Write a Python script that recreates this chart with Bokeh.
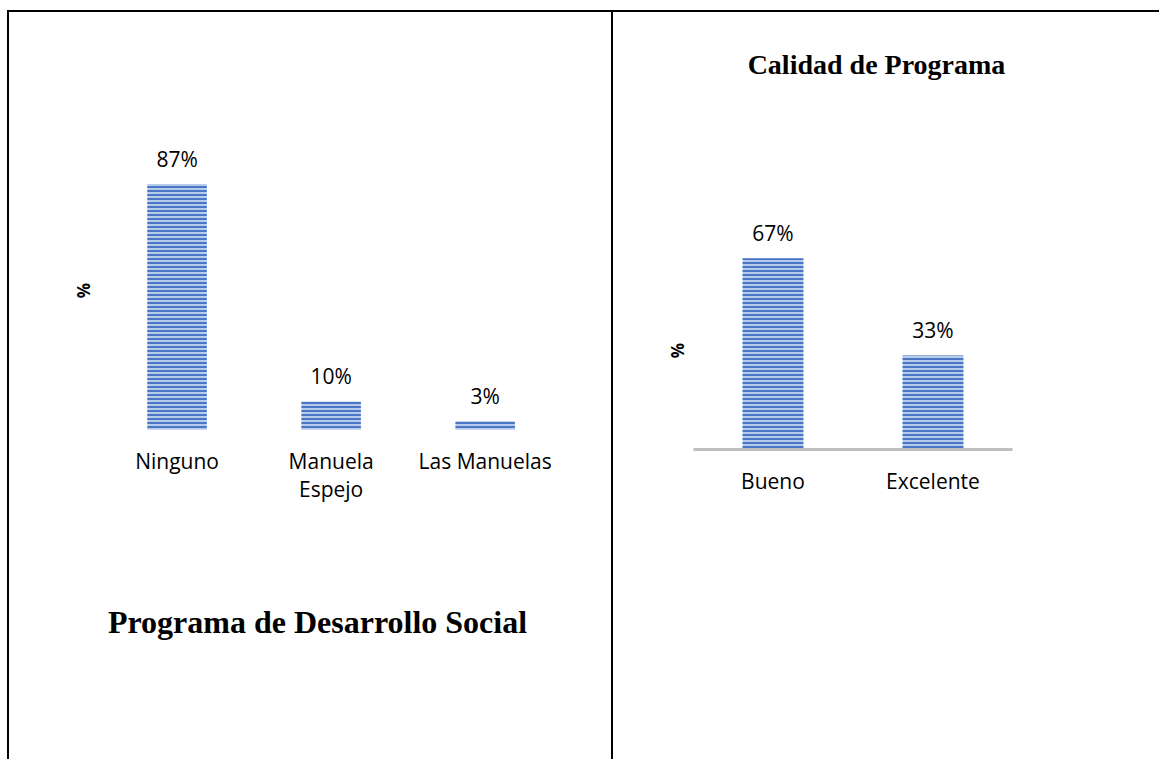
import math
from bokeh.plotting import figure
from bokeh.models import ColumnDataSource, LabelSet, Label, Range1d, FixedTicker
from bokeh.layouts import row
from bokeh.embed import file_html
from bokeh.resources import INLINE
from bokeh.core.properties import value

# ---- data ----
cats_left = ["Ninguno", "Manuela\nEspejo", "Las Manuelas"]
vals_left = [87, 10, 3]
labels_left = ["87%", "10%", "3%"]
title_left = "Programa de Desarrollo Social"

cats_right = ["Bueno", "Excelente"]
vals_right = [67, 33]
labels_right = ["67%", "33%"]
title_right = "Calidad de Programa"

BAR_DARK = "#4472C4"
BAR_LIGHT = "#B9CBEA"
SANS = "Open Sans"
SERIF = "Liberation Serif"
H = 749


def make_panel(cats, vals, labels, title, title_size, width, xr, yr, bar_width,
               axis_line, title_xy, pct_xy, styles):
    xs = list(range(len(cats)))
    p = figure(x_range=Range1d(*xr), y_range=Range1d(*yr), width=width, height=H,
               output_backend="svg", toolbar_location=None,
               min_border=0, styles=styles)
    p.outline_line_color = None
    p.grid.visible = False
    p.background_fill_color = "white"
    p.border_fill_color = "white"
    p.yaxis.visible = False

    src = ColumnDataSource(dict(x=xs, y=vals, label=labels))
    p.vbar(x="x", top="y", bottom=0, width=bar_width, source=src,
           fill_color=BAR_LIGHT, line_color=None,
           hatch_pattern="horizontal_line", hatch_color=BAR_DARK,
           hatch_scale=4, hatch_weight=1.9)

    p.add_layout(LabelSet(x="x", y="y", text="label", source=src,
                          y_offset=25, text_align="center", text_baseline="middle",
                          text_font=value(SANS), text_font_size="21px",
                          text_color="#000000"))

    # category axis drawn at y = 0
    ax = p.xaxis[0]
    ax.fixed_location = 0
    ax.ticker = FixedTicker(ticks=xs)
    ax.major_label_overrides = {i: c for i, c in zip(xs, cats)}
    ax.major_label_text_font = SANS
    ax.major_label_text_font_size = "21px"
    ax.major_label_text_color = "#000000"
    ax.major_label_text_line_height = 1.0
    ax.major_tick_line_color = None
    ax.minor_tick_line_color = None
    ax.major_tick_out = 0
    ax.major_tick_in = 0
    ax.major_label_standoff = 17
    ax.bounds = (-0.5, len(cats) - 0.5)
    if axis_line:
        ax.axis_line_color = "#BFBFBF"
        ax.axis_line_width = 3
    else:
        ax.axis_line_color = None

    # "%" axis title
    p.add_layout(Label(x=pct_xy[0], y=pct_xy[1], x_units="screen", y_units="screen",
                       text="%", text_font=SANS, text_font_style="bold",
                       text_font_size="17px", text_color="#000000",
                       angle=math.pi / 2, text_align="center", text_baseline="middle"))

    p.add_layout(Label(x=title_xy[0], y=title_xy[1], x_units="screen", y_units="screen",
                       text=title, text_font=SERIF, text_font_style="bold",
                       text_font_size=title_size, text_color="#000000",
                       text_align="center", text_baseline="middle"))
    return p


left = make_panel(cats_left, vals_left, labels_left, title_left, "32px", width=606,
                  xr=(-1.088, 2.846), yr=(-117.5, 147.7), bar_width=0.386,
                  axis_line=False, title_xy=(308, 140), pct_xy=(74, 471),
                  styles={"border-left": "2px solid #000", "border-top": "2px solid #000",
                          "border-right": "2px solid #000",
                          "margin-top": "10px", "margin-left": "7px"})

right = make_panel(cats_right, vals_right, labels_right, title_right, "28px", width=546,
                   xr=(-0.997, 2.416), yr=(-109.1, 153.0), bar_width=0.38,
                   axis_line=True, title_xy=(263, 697), pct_xy=(64, 411),
                   styles={"border-top": "2px solid #000", "margin-top": "10px"})

layout = row(left, right)
open("out.html", "w").write(file_html(layout, INLINE))
